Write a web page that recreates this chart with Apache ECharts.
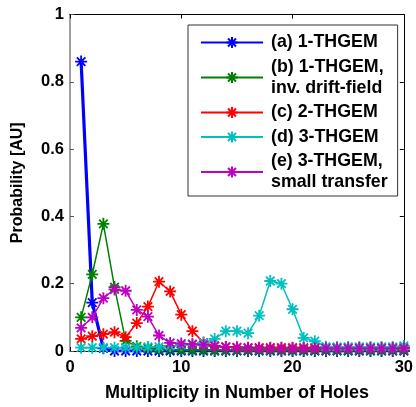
<!DOCTYPE html>
<html>
<head>
<meta charset="utf-8">
<script src="https://cdn.jsdelivr.net/npm/echarts@6/dist/echarts.min.js"></script>
<style>
  html, body { margin: 0; padding: 0; background: #fff; }
  #chart { width: 416px; height: 407px; }
</style>
</head>
<body>
<div id="chart"></div>
<script>
// multiplicity 1..30
const holes = [];
for (let i = 1; i <= 30; i++) holes.push(i);

const seriesNames = [
  "(a) 1-THGEM",
  "(b) 1-THGEM,\ninv. drift-field",
  "(c) 2-THGEM",
  "(d) 3-THGEM",
  "(e) 3-THGEM,\nsmall transfer"
];

const oneThgem = [0.86, 0.144, 0.008, 0, 0, 0, 0, 0, 0, 0,
  0, 0, 0, 0, 0, 0, 0, 0, 0, 0,
  0, 0, 0, 0, 0, 0, 0, 0, 0, 0];
const oneThgemInv = [0.10, 0.228, 0.378, 0.19, 0.03, 0.014, 0.008, 0.005, 0.004, 0.003,
  0.003, 0.003, 0.002, 0.002, 0.002, 0.002, 0.002, 0.002, 0.002, 0.002,
  0.002, 0.002, 0.002, 0.002, 0.002, 0.002, 0.002, 0.002, 0.002, 0.002];
const twoThgem = [0.036, 0.044, 0.05, 0.056, 0.041, 0.083, 0.132, 0.206, 0.177, 0.108,
  0.059, 0.025, 0.015, 0.012, 0.011, 0.01, 0.01, 0.01, 0.01, 0.01,
  0.01, 0.01, 0.01, 0.01, 0.01, 0.01, 0.01, 0.01, 0.01, 0.01];
const threeThgem = [0.01, 0.01, 0.01, 0.01, 0.01, 0.01, 0.012, 0.012, 0.015, 0.018,
  0.02, 0.024, 0.036, 0.059, 0.059, 0.053, 0.105, 0.208, 0.2, 0.124,
  0.039, 0.029, 0.013, 0.012, 0.012, 0.012, 0.012, 0.012, 0.012, 0.015];
const threeThgemSmall = [0.069, 0.1, 0.157, 0.183, 0.179, 0.122, 0.102, 0.046, 0.024, 0.022,
  0.02, 0.018, 0.015, 0.012, 0.01, 0.009, 0.008, 0.008, 0.008, 0.008,
  0.008, 0.008, 0.008, 0.008, 0.008, 0.008, 0.008, 0.008, 0.008, 0.008];

const values = [oneThgem, oneThgemInv, twoThgem, threeThgem, threeThgemSmall];
const colors = ["#0000ff", "#008000", "#ff0000", "#00bfbf", "#bf00bf"];
const widths = [3.2, 1.5, 1.5, 1.5, 1.5];

const xTicks = [0, 10, 20, 30];
const yTicks = [0, 0.2, 0.4, 0.6, 0.8, 1];

const font = "'Liberation Sans', Arial, sans-serif";
const star = "path://M0,-10L0,10M-10,0L10,0M-7.1,-7.1L7.1,7.1M-7.1,7.1L7.1,-7.1";

const myChart = echarts.init(document.getElementById("chart"));

const series = values.map((vals, k) => ({
  name: seriesNames[k],
  type: "line",
  data: vals.map((v, i) => [holes[i], v]),
  symbol: star,
  symbolSize: 12,
  lineStyle: { color: colors[k], width: widths[k] },
  itemStyle: { color: colors[k], borderColor: colors[k], borderWidth: 1.8 },
  emphasis: { disabled: true },
  animation: false
}));

const option = {
  backgroundColor: "#fff",
  animation: false,
  grid: { left: 70, top: 14.5, right: 6, bottom: 53 },
  legend: {
    data: seriesNames,
    orient: "vertical",
    left: 188,
    top: 25,
    padding: [7, 10, 3, 12],
    itemGap: 3.5,
    itemWidth: 62,
    itemHeight: 14,
    backgroundColor: "#fff",
    borderColor: "#333",
    borderWidth: 1,
    borderRadius: 0,
    textStyle: {
      fontFamily: font,
      fontWeight: "bold",
      fontSize: 17.8,
      lineHeight: 21,
      color: "#000",
      padding: [0, 0, 0, 3]
    }
  },
  xAxis: [
    {
      type: "value",
      min: 0,
      max: 30,
      interval: 10,
      name: "Multiplicity in Number of Holes",
      nameLocation: "middle",
      nameGap: 33,
      nameTextStyle: { fontFamily: font, fontWeight: "bold", fontSize: 18, color: "#000" },
      axisLine: { onZero: false, lineStyle: { color: "#000", width: 1 } },
      axisTick: { inside: true, length: 4, lineStyle: { color: "#000" } },
      axisLabel: { margin: 8, fontFamily: font, fontWeight: "bold", fontSize: 16.5, color: "#000",
        formatter: (v) => (xTicks.includes(v) ? String(v) : "") },
      splitLine: { show: false }
    },
    {
      type: "value",
      position: "top",
      min: 0,
      max: 30,
      interval: 10,
      axisLine: { onZero: false, lineStyle: { color: "#000", width: 1 } },
      axisTick: { inside: true, length: 4, lineStyle: { color: "#000" } },
      axisLabel: { show: false },
      splitLine: { show: false }
    }
  ],
  yAxis: [
    {
      type: "value",
      min: 0,
      max: 1,
      interval: 0.2,
      name: "Probability [AU]",
      nameLocation: "middle",
      nameGap: 44,
      nameTextStyle: { fontFamily: font, fontWeight: "bold", fontSize: 16, color: "#000" },
      axisLine: { show: true, onZero: false, lineStyle: { color: "#808080", width: 1.5 } },
      axisTick: { show: true, inside: true, length: 4, lineStyle: { color: "#555" } },
      axisLabel: { margin: 6, fontFamily: font, fontWeight: "bold", fontSize: 16.5, color: "#000",
        formatter: (v) => String(yTicks.find((t) => Math.abs(t - v) < 1e-9) ?? v) },
      splitLine: { show: false }
    },
    {
      type: "value",
      position: "right",
      min: 0,
      max: 1,
      interval: 0.2,
      axisLine: { show: true, onZero: false, lineStyle: { color: "#000", width: 1 } },
      axisTick: { show: true, inside: true, length: 4, lineStyle: { color: "#000" } },
      axisLabel: { show: false },
      splitLine: { show: false }
    }
  ],
  series: series
};

myChart.setOption(option);
</script>
</body>
</html>
